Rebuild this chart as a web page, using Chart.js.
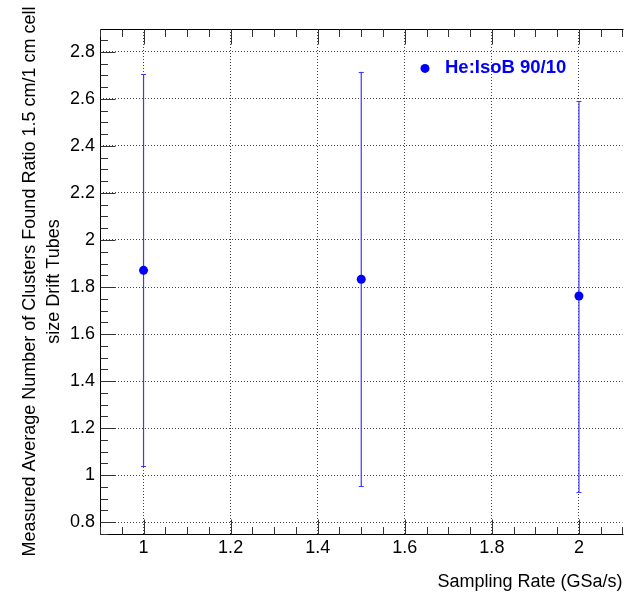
<!DOCTYPE html>
<html><head><meta charset="utf-8">
<script src="https://cdn.jsdelivr.net/npm/chart.js@4.4.0/dist/chart.umd.min.js"></script>
<style>html,body{margin:0;padding:0;background:#fff;overflow:hidden}#wrap{width:627px;height:593px;position:relative}</style>
</head><body><div id="wrap"><canvas id="c" width="627" height="593"></canvas></div>
<script>
// ---- data ----
const samplingRates = [1, 1.5, 2];
const clusterRatio = [1.871, 1.833, 1.762];
const errorLow = [1.038, 0.954, 0.927];
const errorHigh = [2.704, 2.715, 2.590];
const xTickValues = [1, 1.2, 1.4, 1.6, 1.8, 2];
const yTickValues = [0.8, 1, 1.2, 1.4, 1.6, 1.8, 2, 2.2, 2.4, 2.6, 2.8];
const xRange = [0.9, 2.1];
const yRange = [0.75, 2.897];
const seriesLabel = 'He:IsoB 90/10';
const xTitle = 'Sampling Rate (GSa/s)';
const yTitle = ['Measured Average Number of Clusters Found Ratio 1.5 cm/1 cm cell', 'size Drift Tubes'];

const FONT = "'Liberation Sans', Arial, Helvetica, sans-serif";
const BLUE = '#0000ff';
const fmt = v => String(Math.round(v * 100) / 100);

const rootPlugin = {
  id: 'rootStyle',
  beforeDatasetsDraw(chart) {
    const ctx = chart.ctx, xs = chart.scales.x, ys = chart.scales.y;
    ctx.save();
    ctx.setLineDash([]);
    ctx.strokeStyle = '#3a3aff';
    ctx.lineWidth = 1.2;
    for (let i = 0; i < samplingRates.length; i++) {
      const px = xs.getPixelForValue(samplingRates[i]);
      const lo = ys.getPixelForValue(errorLow[i]);
      const hi = ys.getPixelForValue(errorHigh[i]);
      ctx.beginPath();
      ctx.moveTo(px, lo); ctx.lineTo(px, hi);
      ctx.moveTo(px - 2.5, Math.round(lo) + 0.5); ctx.lineTo(px + 2.5, Math.round(lo) + 0.5);
      ctx.moveTo(px - 2.5, Math.round(hi) + 0.5); ctx.lineTo(px + 2.5, Math.round(hi) + 0.5);
      ctx.stroke();
    }
    ctx.restore();
  },
  afterDraw(chart) {
    const ctx = chart.ctx, a = chart.chartArea, xs = chart.scales.x, ys = chart.scales.y;
    ctx.save();
    ctx.setLineDash([]);
    // frame (left, top, bottom; right side lies outside the picture)
    const L = Math.round(a.left) + 0.5, T = Math.round(a.top) + 0.5, B = Math.round(a.bottom) + 0.5, R = a.right + 1;
    ctx.strokeStyle = '#000';
    ctx.lineWidth = 1;
    ctx.beginPath();
    ctx.moveTo(R, T); ctx.lineTo(L, T); ctx.lineTo(L, B); ctx.lineTo(R, B);
    ctx.stroke();
    // inner tick marks
    ctx.strokeStyle = '#333';
    ctx.beginPath();
    const xStep = (xTickValues[1] - xTickValues[0]) / 4;
    for (let k = -10; k < 100; k++) {
      const v = xTickValues[0] + k * xStep;
      if (v < xRange[0] - 1e-9 || v > xRange[1] + 1e-9) continue;
      const major = Math.abs(k % 4) === 0;
      const len = major ? 15 : 7.5;
      const px = Math.round(xs.getPixelForValue(v)) + 0.5;
      ctx.moveTo(px, B); ctx.lineTo(px, B - len);
      ctx.moveTo(px, T); ctx.lineTo(px, T + len);
    }
    const yStep = (yTickValues[1] - yTickValues[0]) / 4;
    for (let k = -10; k < 100; k++) {
      const v = yTickValues[0] + k * yStep;
      if (v < yRange[0] - 1e-9 || v > yRange[1] + 1e-9) continue;
      const major = Math.abs(k % 4) === 0;
      const len = major ? 15 : 7.5;
      const py = Math.round(ys.getPixelForValue(v)) + 0.5;
      ctx.moveTo(L, py); ctx.lineTo(L + len, py);
    }
    ctx.stroke();
    // legend
    const lx = a.left + 0.622 * (a.right - a.left);
    const ly = a.top + 0.078 * (a.bottom - a.top);
    ctx.fillStyle = BLUE;
    ctx.beginPath(); ctx.arc(lx, ly, 4.5, 0, Math.PI * 2); ctx.fill();
    ctx.font = 'bold 18.5px ' + FONT;
    ctx.textBaseline = 'middle';
    ctx.textAlign = 'left';
    ctx.fillText(seriesLabel, lx + 20, ly);
    ctx.restore();
  }
};

new Chart(document.getElementById('c'), {
  type: 'scatter',
  data: {
    datasets: [{
      label: seriesLabel,
      data: samplingRates.map((x, i) => ({ x, y: clusterRatio[i] })),
      backgroundColor: BLUE,
      borderColor: BLUE,
      borderWidth: 0,
      pointRadius: 4.5,
      pointHoverRadius: 4.5
    }]
  },
  options: {
    responsive: false,
    animation: false,
    devicePixelRatio: 1,
    layout: { padding: { left: 0, top: 29, right: 0, bottom: 0 } },
    plugins: { legend: { display: false }, tooltip: { enabled: false } },
    scales: {
      x: {
        type: 'linear', min: xRange[0], max: xRange[1],
        afterBuildTicks: s => { s.ticks = xTickValues.map(v => ({ value: v })); },
        afterFit: s => { s.height = 59; },
        ticks: { callback: v => fmt(v), font: { family: FONT, size: 18 }, color: '#000', padding: 3, maxRotation: 0, autoSkip: false },
        grid: { drawTicks: false, color: '#444', lineWidth: 1 },
        border: { display: false, dash: [1, 2] },
        title: { display: true, text: xTitle, align: 'end', color: '#000', font: { family: FONT, size: 18, lineHeight: 1.2 }, padding: { top: 0, bottom: 0 } }
      },
      y: {
        type: 'linear', min: yRange[0], max: yRange[1],
        afterBuildTicks: s => { s.ticks = yTickValues.map(v => ({ value: v })); },
        afterFit: s => { s.width = 100; },
        ticks: { callback: v => fmt(v), font: { family: FONT, size: 18 }, color: '#000', padding: 5, autoSkip: false },
        grid: { drawTicks: false, color: '#444', lineWidth: 1 },
        border: { display: false, dash: [1, 2] },
        title: { display: true, text: yTitle, align: 'center', color: '#000', font: { family: FONT, size: 18, lineHeight: 1.333 }, padding: { top: 18, bottom: 0 } }
      }
    }
  },
  plugins: [rootPlugin]
});
</script></body></html>
